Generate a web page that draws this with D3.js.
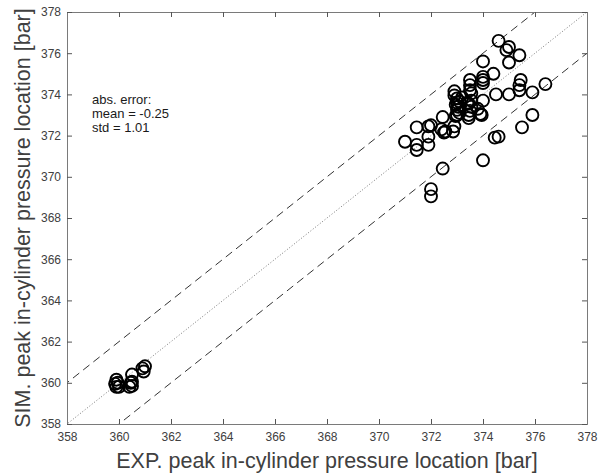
<!DOCTYPE html>
<html>
<head>
<meta charset="utf-8">
<script src="https://cdn.jsdelivr.net/npm/d3@7"></script>
<style>
  html, body { margin: 0; padding: 0; background: #fff; }
  svg { display: block; font-family: "Liberation Sans", Arial, Helvetica, sans-serif; }
</style>
</head>
<body>
<svg id="chart" width="610" height="475"></svg>
<script>
// ---- data ----
const xTicks = [358, 360, 362, 364, 366, 368, 370, 372, 374, 376, 378];
const yTicks = [358, 360, 362, 364, 366, 368, 370, 372, 374, 376, 378];
const expValues = [
  359.9, 360.0, 359.95, 359.9, 359.85, 360.4, 360.5, 360.45, 360.5, 360.5, 360.95, 361.0, 360.9,
  374.6, 375.0, 374.9, 375.4, 375.0, 374.0, 374.4, 374.0, 374.0, 374.0, 373.5, 373.5, 373.5,
  372.9, 372.9, 375.45, 375.4, 375.4, 374.5, 375.0, 375.9, 376.4, 374.0, 373.55, 373.55,
  372.95, 373.05, 373.0, 373.1, 373.8, 373.9, 375.9, 375.5, 374.45, 374.6, 374.0, 372.45,
  372.0, 372.0, 371.0, 371.45, 371.45, 371.45, 371.9, 372.0, 371.9, 371.9, 372.45, 372.4,
  372.5, 372.55, 372.9, 372.85, 373.45, 373.45, 373.95, 373.4, 373.45, 373.0, 373.1,
  372.95, 373.0, 373.2, 373.0, 373.5, 373.55
];
const simValues = [
  359.8, 359.8, 360.0, 360.15, 359.95, 359.8, 359.85, 360.0, 360.05, 360.4, 360.55, 360.8, 360.7,
  376.6, 376.3, 376.15, 375.9, 375.55, 375.6, 375.0, 374.85, 374.7, 374.55, 374.7, 374.45, 374.2,
  374.15, 373.95, 374.7, 374.45, 374.2, 374.0, 374.0, 374.1, 374.5, 373.7, 373.7, 373.4,
  373.5, 373.4, 373.25, 373.1, 373.3, 373.05, 373.0, 372.4, 371.9, 371.95, 370.8, 370.4,
  369.4, 369.05, 371.7, 371.55, 371.3, 372.4, 372.45, 372.5, 371.95, 371.55, 372.9, 372.3,
  372.15, 372.2, 372.45, 372.2, 373.0, 372.85, 373.0, 373.6, 373.55, 373.8, 373.65,
  372.95, 373.6, 373.85, 373.0, 373.2, 374.05
];
const refLineOffsets = [2, 0, -2];
const annotationLines = ["abs. error:", "mean = -0.25", "std = 1.01"];
const xLabel = "EXP. peak in-cylinder pressure location [bar]";
const yLabel = "SIM. peak in-cylinder pressure location [bar]";

// ---- layout ----
const svg = d3.select("#chart");
const L = 67, R = 587, T = 12, B = 424;
const x = d3.scaleLinear().domain([358, 378]).range([L, R]);
const y = d3.scaleLinear().domain([358, 378]).range([B, T]);
const axisColor = "#7a7a7a";
const textColor = "#404040";

svg.append("defs").append("clipPath").attr("id", "clip")
  .append("rect").attr("x", L).attr("y", T).attr("width", R - L).attr("height", B - T);

// reference lines
const plot = svg.append("g").attr("clip-path", "url(#clip)");
refLineOffsets.forEach(off => {
  plot.append("line")
    .attr("x1", x(350)).attr("y1", y(350 + off))
    .attr("x2", x(386)).attr("y2", y(386 + off))
    .attr("stroke", off === 0 ? "#555" : "#333")
    .attr("stroke-width", off === 0 ? 0.8 : 1)
    .attr("stroke-dasharray", off === 0 ? "1,2" : "8,5");
});

// points
const pts = expValues.map((v, i) => [v, simValues[i]]);
plot.selectAll("circle.pt").data(pts).enter().append("circle")
  .attr("class", "pt")
  .attr("cx", d => x(d[0])).attr("cy", d => y(d[1]))
  .attr("r", 6)
  .attr("fill", "none").attr("stroke", "#000").attr("stroke-width", 1.9);

// axes
const tickLen = 5;
const gx = svg.append("g").attr("transform", `translate(0,${B})`)
  .call(d3.axisBottom(x).tickValues(xTicks).tickSize(-tickLen).tickPadding(8).tickFormat(d3.format("d")));
const gxTop = svg.append("g").attr("transform", `translate(0,${T})`)
  .call(d3.axisTop(x).tickValues(xTicks).tickSize(-tickLen).tickFormat(""));
const gy = svg.append("g").attr("transform", `translate(${L},0)`)
  .call(d3.axisLeft(y).tickValues(yTicks).tickSize(-tickLen).tickPadding(6).tickFormat(d3.format("d")));
const gyRight = svg.append("g").attr("transform", `translate(${R},0)`)
  .call(d3.axisRight(y).tickValues(yTicks).tickSize(-tickLen).tickFormat(""));

[gx, gxTop, gy, gyRight].forEach(g => {
  g.select(".domain").attr("stroke", axisColor).attr("stroke-width", 1);
  g.selectAll(".tick line").attr("stroke", "#555").attr("stroke-width", 1);
  g.selectAll(".tick text").attr("fill", textColor)
    .style("font-size", "12px").style("font-family", "'Liberation Sans', Arial, sans-serif");
});

// annotation
const ann = svg.append("text").attr("x", 92).attr("y", 104)
  .attr("fill", "#1a1a1a").style("font-size", "13px");
annotationLines.forEach((t, i) => {
  ann.append("tspan").attr("x", 92).attr("y", 104 + i * 14).text(t);
});

// axis titles
svg.append("text")
  .attr("x", 327).attr("y", 468)
  .attr("text-anchor", "middle").attr("fill", textColor)
  .style("font-size", "21.5px").text(xLabel);
svg.append("text")
  .attr("transform", `translate(30,${(T + B) / 2}) rotate(-90)`)
  .attr("text-anchor", "middle").attr("fill", textColor)
  .style("font-size", "21.5px").text(yLabel);
</script>
</body>
</html>
